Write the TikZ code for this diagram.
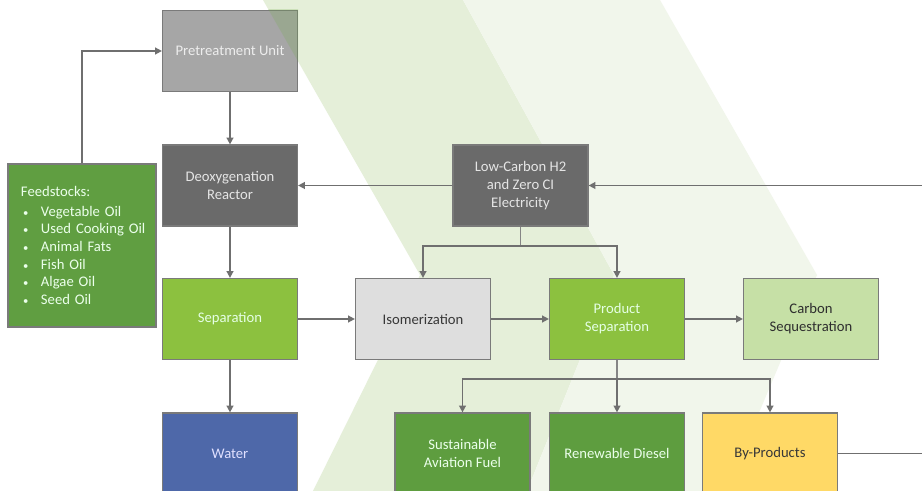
\documentclass[tikz,border=0pt]{standalone}
\usepackage{fontspec}
\setmainfont{Carlito}
\usetikzlibrary{arrows.meta}
\definecolor{bandA}{HTML}{E5EFD9}
\definecolor{bandB}{HTML}{F1F6EB}
\definecolor{tint}{HTML}{70AD47}
\definecolor{edgegray}{HTML}{7A7A7A}
\definecolor{conngray}{HTML}{6F6F6F}
\definecolor{pregray}{HTML}{A6A6A6}
\definecolor{darkgray}{HTML}{6A6A6A}
\definecolor{feedgreen}{HTML}{609E41}
\definecolor{sepgreen}{HTML}{8CC13F}
\definecolor{waterblue}{HTML}{4E68A9}
\definecolor{isogray}{HTML}{DEDEDE}
\definecolor{carbgreen}{HTML}{C6E0A6}
\definecolor{fuelgreen}{HTML}{5E9D3F}
\definecolor{byyellow}{HTML}{FFD966}
\newcommand{\feeditem}[1]{\makebox[15pt][l]{\hspace{1.5pt}\fontsize{8}{8}\selectfont •}#1}
\tikzset{
  box/.style={draw=edgegray, line width=0.9pt, minimum width=101.25pt, minimum height=60.75pt,
    inner sep=2pt, align=center, font=\fontsize{11}{13.5}\selectfont},
  conn/.style={draw=conngray, line width=1.1pt, -{Triangle[length=5pt,width=5pt]}},
  plainline/.style={draw=conngray, line width=1.1pt},
  thinline/.style={draw=conngray!85, line width=0.8pt},
}
\begin{document}
\begin{tikzpicture}[x=0.75pt, y=-0.75pt]
\useasboundingbox (0,0) rectangle (922,491);
\clip (0,0) rectangle (922,491);
\fill[white] (0,0) rectangle (922,491);
% background chevron bands
\fill[bandA] (263,0) -- (420,275) -- (313,491) -- (527,491) -- (614,275) -- (463,0) -- cycle;
\fill[bandB] (463,0) -- (614,275) -- (527,491) -- (726,491) -- (817,275) -- (660,0) -- cycle;

% boxes
\node[box, fill=pregray, text=white!93!black] (pre) at (230,51) {Pretreatment Unit};
\node[box, fill=darkgray, text=white!90!black] (deox) at (230,185.5) {Deoxygenation\\Reactor};
\node[box, fill=darkgray, text=white!90!black] (lowc) at (520.5,185.5) {Low-Carbon H2\\and Zero CI\\Electricity};
\node[box, fill=feedgreen, text=white!92!green, minimum width=111pt, minimum height=122.25pt,
  text width=101pt, inner xsep=5pt, align=left, font=\fontsize{11}{13.2}\selectfont] (feed) at (82,245.5)
  {\hspace{4.75pt}Feedstocks:\\[1.5pt]
   \hspace{4.75pt}\feeditem{Vegetable Oil}\\
   \hspace{4.75pt}\feeditem{Used Cooking Oil}\\
   \hspace{4.75pt}\feeditem{Animal Fats}\\
   \hspace{4.75pt}\feeditem{Fish Oil}\\
   \hspace{4.75pt}\feeditem{Algae Oil}\\
   \hspace{4.75pt}\feeditem{Seed Oil}};
\node[box, fill=sepgreen, text=white!90!green] (sep) at (230,319) {Separation};
\node[box, fill=isogray, text=black!78] (iso) at (423,319) {Isomerization};
\node[box, fill=sepgreen, text=white!90!green] (prod) at (617,319) {Product\\Separation};
\node[box, fill=carbgreen, text=black!82] (carb) at (811,319) {Carbon\\Sequestration};
\node[box, fill=waterblue, text=white!88!blue] (water) at (230,453.5) {Water};
\node[box, fill=fuelgreen, text=white!92!green] (saf) at (462.5,453.5) {Sustainable\\Aviation Fuel};
\node[box, fill=fuelgreen, text=white!92!green] (rd) at (617,453.5) {Renewable Diesel};
\node[box, fill=byyellow, text=black!78] (byp) at (770,453.5) {By-Products};

% band tint showing over the pretreatment box corner
\begin{scope}
  \clip (pre.south west) rectangle (pre.north east);
  \fill[tint, fill opacity=0.22] (263,0) -- (420,275) -- (614,275) -- (463,0) -- cycle;
\end{scope}

% connectors
\coordinate (rin) at (922,185.5);
\coordinate (rout) at (922,453.5);
\coordinate (s1) at (520.5,246);
\coordinate (s2) at (617,379);
\draw[conn] (feed.north) |- (pre.west);
\draw[conn] (pre) -- (deox);
\draw[conn] (lowc) -- (deox);
\draw[conn] (rin) -- (lowc.east);
\draw[conn] (deox) -- (sep);
\draw[conn] (sep) -- (iso);
\draw[conn] (iso) -- (prod);
\draw[conn] (prod) -- (carb);
\draw[conn] (sep) -- (water);
\draw[thinline] (lowc.south) -- (s1);
\draw[conn] (s1) -| (iso.north);
\draw[conn] (s1) -| (prod.north);
\draw[thinline] (prod.south) -- (s2);
\draw[conn] (s2) -| (saf.north);
\draw[conn] (s2) -- (rd.north);
\draw[conn] (s2) -| (byp.north);
\draw[plainline] (byp.east) -- (rout);
\end{tikzpicture}
\end{document}
